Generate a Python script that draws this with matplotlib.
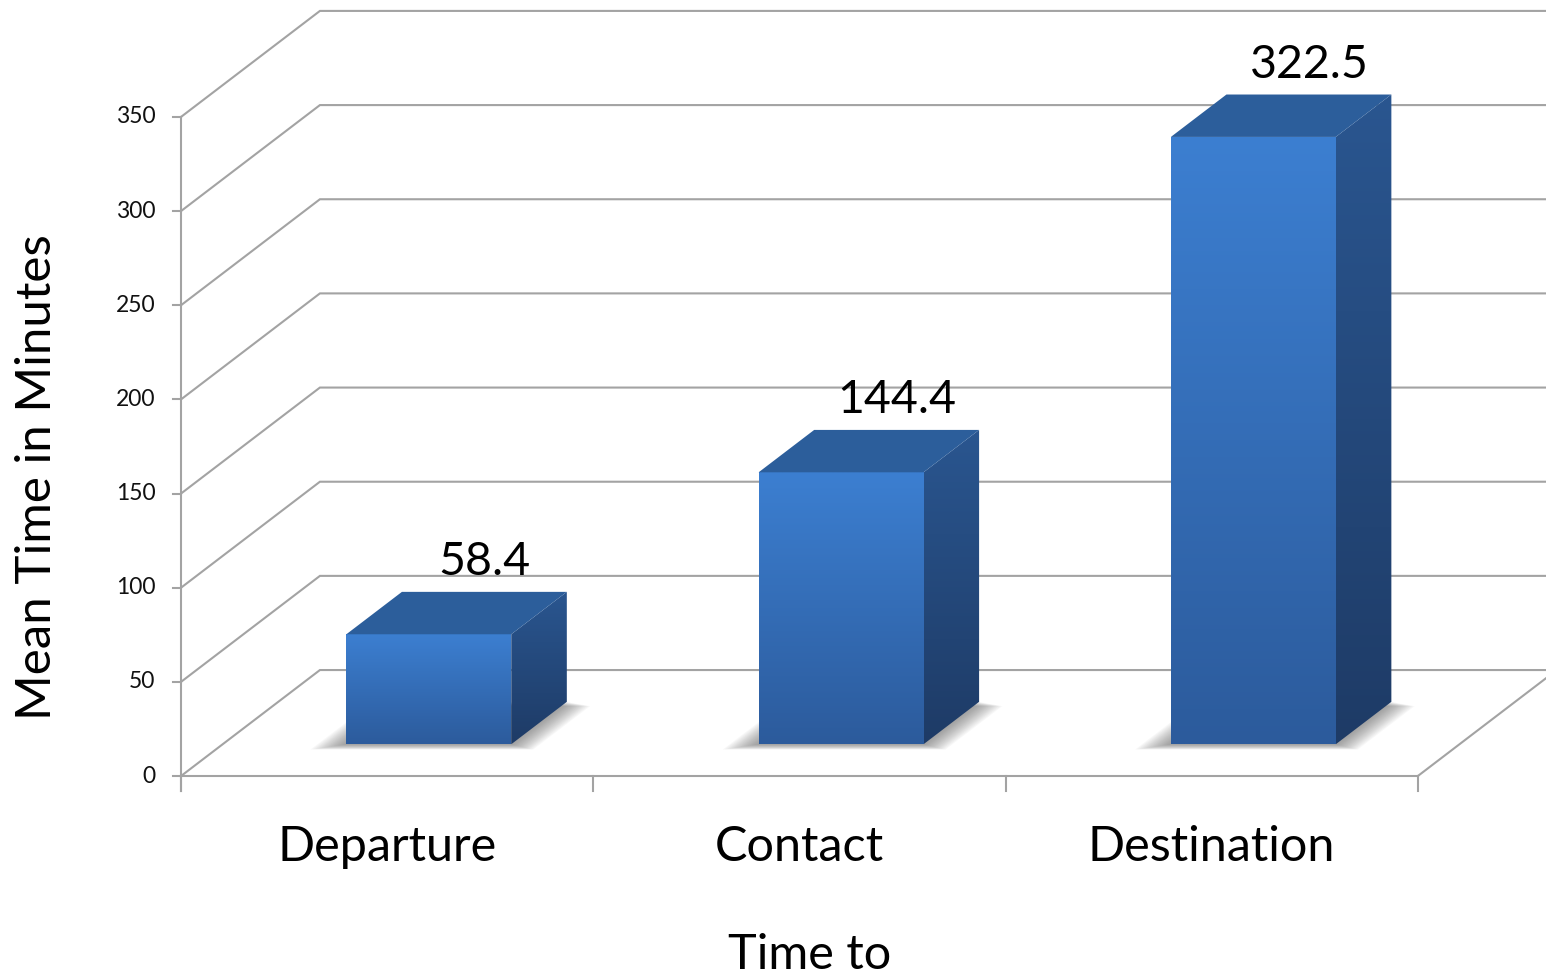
import numpy as np
import matplotlib.pyplot as plt
from matplotlib.patches import Polygon
from matplotlib.colors import LinearSegmentedColormap

categories = ["Departure", "Contact", "Destination"]
means = [58.4, 144.4, 322.5]
value_labels = ["58.4", "144.4", "322.5"]
yticks = [0, 50, 100, 150, 200, 250, 300, 350]

plt.rcParams['font.family'] = ['Lato', 'DejaVu Sans']

# pseudo-3d geometry (category units / value units)
DX, DY = 0.337, 56.3        # shift of the back wall
D0, D1 = 0.30, 0.70         # bar front / back depth
BAR_W = 0.40
GRID = '#a3a3a3'


def proj(x, v, d):
    return (x + d * DX, v + d * DY)


def grad_poly(ax, pts, c_top, c_bot, z):
    poly = Polygon(pts, closed=True, facecolor='none', edgecolor='none', zorder=z)
    ax.add_patch(poly)
    xs = [p[0] for p in pts]
    ys = [p[1] for p in pts]
    cmap = LinearSegmentedColormap.from_list('g', [c_bot, c_top])
    g = np.linspace(0, 1, 256).reshape(-1, 1)
    im = ax.imshow(g, cmap=cmap, origin='lower', aspect='auto', zorder=z,
                   extent=(min(xs), max(xs), min(ys), max(ys)), interpolation='bilinear')
    im.set_clip_path(poly)


fig = plt.figure(figsize=(15.46, 9.77), dpi=100)
ax = fig.add_axes([0, 0, 1, 1])
ax.axis('off')
n = len(categories)

# walls and gridlines
for v in yticks:
    pts = [proj(0, v, 0), proj(0, v, 1), proj(n, v, 1)]
    ax.plot([p[0] for p in pts], [p[1] for p in pts], color=GRID, lw=1.5, zorder=1,
            solid_joinstyle='miter')
    ax.plot([-0.02, 0], [v, v], color=GRID, lw=1.5, zorder=1)
    ax.text(-0.062, v, str(v), ha='right', va='center', fontsize=16.5, color='#111111')

# floor edges and axes
ax.plot([0, n], [0, 0], color=GRID, lw=1.5, zorder=1)
ax.plot(*zip(proj(n, 0, 0), proj(n, 0, 1)), color=GRID, lw=1.5, zorder=1)
ax.plot([0, 0], [-8, yticks[-1]], color=GRID, lw=1.5, zorder=1)
for i in range(n + 1):
    ax.plot([i, i], [-8, 0], color=GRID, lw=1.5, zorder=1)

for i, val in enumerate(means):
    x0 = i + (1 - BAR_W) / 2
    x1 = x0 + BAR_W
    # soft shadow on the floor
    layers = 16
    for k in range(layers):
        t = 1 - k / layers
        e = 0.07 * t
        sh = [proj(x0 - e, 0, D0 - 0.05 * t), proj(x1 + e, 0, D0 - 0.05 * t),
              proj(x1 + e, 0, D1 - 0.04 * t), proj(x0 - e, 0, D1 - 0.04 * t)]
        ax.add_patch(Polygon(sh, closed=True, facecolor='#555555', edgecolor='none',
                             alpha=0.045, zorder=2))
    front = [proj(x0, 0, D0), proj(x1, 0, D0), proj(x1, val, D0), proj(x0, val, D0)]
    side = [proj(x1, 0, D0), proj(x1, 0, D1), proj(x1, val, D1), proj(x1, val, D0)]
    top = [proj(x0, val, D0), proj(x1, val, D0), proj(x1, val, D1), proj(x0, val, D1)]
    grad_poly(ax, front, '#3c7fd1', '#2c5b9c', 3)
    grad_poly(ax, side, '#2a5690', '#1e3b66', 3)
    ax.add_patch(Polygon(top, closed=True, facecolor='#2c5e9b', edgecolor='none', zorder=3))
    ax.annotate(value_labels[i], xy=proj(i + 0.5, val, D1), xytext=(0, 12),
                textcoords='offset points', ha='center', va='baseline', fontsize=33.5,
                color='black', zorder=4)
    ax.text(i + 0.5, -37.5, categories[i], ha='center', va='center', fontsize=35,
            color='black')

ax.set_xlim(-0.439, 3.311)
ax.set_ylim(-106.7, 412.1)

fig.text(37 / 1546, 1 - 477 / 977, "Mean Time in Minutes", rotation=90, ha='center',
         va='center', fontsize=35.5, color='black')
fig.text(810 / 1546, 1 - 955 / 977, "Time to", ha='center', va='center', fontsize=35,
         color='black')

fig.savefig('out.png', dpi=100, facecolor='white')
